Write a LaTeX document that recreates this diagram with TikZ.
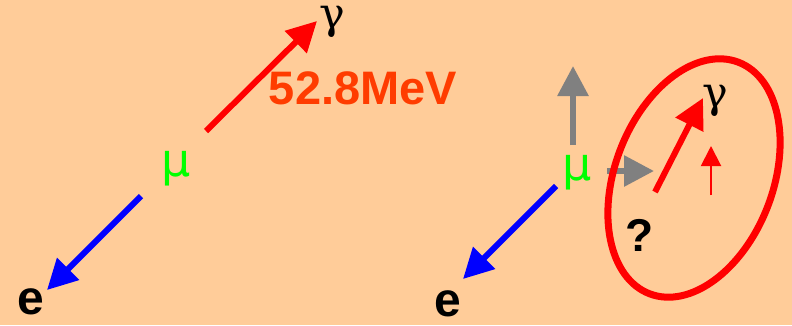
\documentclass[tikz,border=0pt]{standalone}
\usepackage{fontspec}
\setmainfont{Liberation Sans}
\newfontfamily\greekfont{DejaVu Serif}
\newfontfamily\mufont{DejaVu Sans}
\usetikzlibrary{arrows.meta}
\definecolor{bgpeach}{RGB}{255,204,153}
\definecolor{muGreen}{RGB}{0,255,0}
\definecolor{mevOrange}{RGB}{255,60,0}
\definecolor{arrGray}{RGB}{128,128,128}
\tikzset{
  bigarrow/.style={line width=6pt, -{Triangle[length=30pt,width=30pt]}},
  smallarrow/.style={line width=2pt, -{Triangle[length=20pt,width=20pt]}},
  greek/.style={inner sep=0pt, font=\greekfont\fontsize{43}{43}\selectfont},
  mulabel/.style={inner sep=0pt, text=muGreen, font=\mufont\fontsize{46}{46}\selectfont},
  boldlabel/.style={inner sep=0pt, font=\bfseries\fontsize{48}{48}\selectfont},
}
\begin{document}
\begin{tikzpicture}[x=1pt,y=-1pt]
\fill[bgpeach] (0,0) rectangle (792,325);
\useasboundingbox (0,0) rectangle (792,325);
% left
\node[mulabel] (mu1) at (176,169) {μ};
\node[greek] (gam1) at (332,22) {γ};
\node[boldlabel, text=mevOrange, font=\bfseries\fontsize{47}{47}\selectfont] (mev) at (363,88) {52.8MeV};
\node[boldlabel] (e1) at (31,302) {e};
\coordinate (r1s) at (206,131);
\coordinate (r1t) at (317,21);
\coordinate (b1s) at (141,196);
\coordinate (b1t) at (47,290);
\draw[bigarrow, red] (r1s) -- (r1t);
\draw[bigarrow, blue] (b1s) -- (b1t);
% right
\node[mulabel] (mu2) at (577,173) {μ};
\node[boldlabel] (e2) at (448,304) {e};
\node[greek] (gam2) at (715,101) {γ};
\node[boldlabel, font=\bfseries\fontsize{46}{46}\selectfont] (q) at (640,235) {?};
\coordinate (gus) at (573,145);
\coordinate (gut) at (573,66);
\coordinate (grs) at (607,171);
\coordinate (grt) at (654,171);
\coordinate (b2s) at (556,186);
\coordinate (b2t) at (463,279);
\coordinate (r2s) at (655,192);
\coordinate (r2t) at (703,98);
\coordinate (r3s) at (711,195);
\coordinate (r3t) at (711,146);
\draw[bigarrow, arrGray] (gus) -- (gut);
\draw[bigarrow, arrGray] (grs) -- (grt);
\draw[bigarrow, blue] (b2s) -- (b2t);
\draw[bigarrow, red] (r2s) -- (r2t);
\draw[smallarrow, red] (r3s) -- (r3t);
\coordinate (ellc) at (694,178);
\draw[red, line width=7pt, rotate around={69:(ellc)}] (ellc) ellipse [x radius=124pt, y radius=79pt];
\end{tikzpicture}
\end{document}
